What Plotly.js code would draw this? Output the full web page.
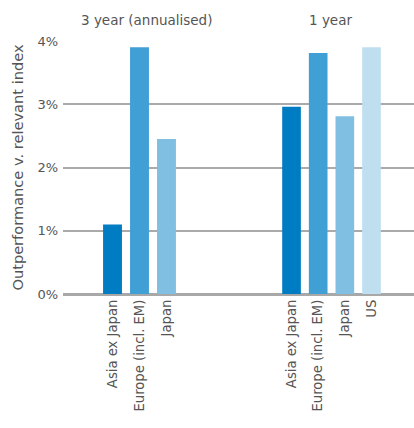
<!DOCTYPE html>
<html>
<head>
<meta charset="utf-8">
<script src="https://cdn.plot.ly/plotly-3.0.1.min.js"></script>
<style>html,body{margin:0;padding:0;background:#fff;}#chart{width:414px;height:428px;}</style>
</head>
<body>
<div id="chart"></div>
<script>
// Data
const groups = ["3 year (annualised)", "1 year"];
const cats3y = ["Asia ex Japan", "Europe (incl. EM)", "Japan"];
const vals3y = [1.1, 3.9, 2.45];
const cats1y = ["Asia ex Japan", "Europe (incl. EM)", "Japan", "US"];
const vals1y = [2.96, 3.81, 2.81, 3.9];
const yTickVals = [0, 1, 2, 3, 4];
const yTickText = ["0%", "1%", "2%", "3%", "4%"];

const colors = ["#007CC2", "#409FD4", "#80BEE2", "#BFDFF1"];
const fontFamily = "'DejaVu Sans', sans-serif";
const textColor = "#555555";

const traces = [
  // empty trace so the full-width base subplot (grid) exists
  {type: "scatter", x: [], y: [], xaxis: "x", yaxis: "y", hoverinfo: "skip", showlegend: false},
  {type: "bar", x: cats3y, y: vals3y, xaxis: "x2", yaxis: "y",
   marker: {color: colors.slice(0, cats3y.length)}, hoverinfo: "skip", showlegend: false},
  {type: "bar", x: cats1y, y: vals1y, xaxis: "x3", yaxis: "y",
   marker: {color: colors.slice(0, cats1y.length)}, hoverinfo: "skip", showlegend: false}
];

const catAxis = (domain) => ({
  domain: domain, anchor: "y", type: "category",
  showgrid: false, zeroline: false, showline: false, ticks: "",
  tickangle: -90, tickfont: {size: 13.2, color: textColor, family: fontFamily},
  ticklabelstandoff: 2,
  automargin: false, fixedrange: true
});

const layout = {
  width: 414, height: 428,
  margin: {l: 63, r: 0, t: 41, b: 134},
  paper_bgcolor: "#ffffff", plot_bgcolor: "#ffffff",
  font: {family: fontFamily, color: textColor, size: 13},
  bargap: 0.3,
  showlegend: false,
  xaxis: {domain: [0, 1], anchor: "y", range: [0, 1], showticklabels: false, ticks: "", showline: false, showgrid: false, zeroline: false, fixedrange: true},
  xaxis2: catAxis([0.1026, 0.3333]),
  xaxis3: catAxis([0.6131, 0.9169]),
  yaxis: {
    anchor: "x",
    range: [0, 4], tickvals: yTickVals, ticktext: yTickText,
    showgrid: true, gridcolor: "#aaaaaa", gridwidth: 2,
    zeroline: true, zerolinecolor: "#a8a8a8", zerolinewidth: 3,
    showline: false, ticks: "", ticklabelstandoff: 4,
    tickfont: {size: 13, color: textColor, family: fontFamily},
    title: {text: "Outperformance v. relevant index", font: {size: 14.6, color: textColor, family: fontFamily}, standoff: 10},
    automargin: false, fixedrange: true
  },
  annotations: [
    {text: groups[0], xref: "paper", yref: "paper", x: 0.239, y: 1, yshift: 21, xanchor: "center", yanchor: "middle", showarrow: false, font: {size: 13.5, color: textColor, family: fontFamily}},
    {text: groups[1], xref: "paper", yref: "paper", x: 0.7635, y: 1, yshift: 21, xanchor: "center", yanchor: "middle", showarrow: false, font: {size: 13.5, color: textColor, family: fontFamily}}
  ]
};

Plotly.newPlot("chart", traces, layout, {staticPlot: true, displayModeBar: false});
</script>
</body>
</html>
